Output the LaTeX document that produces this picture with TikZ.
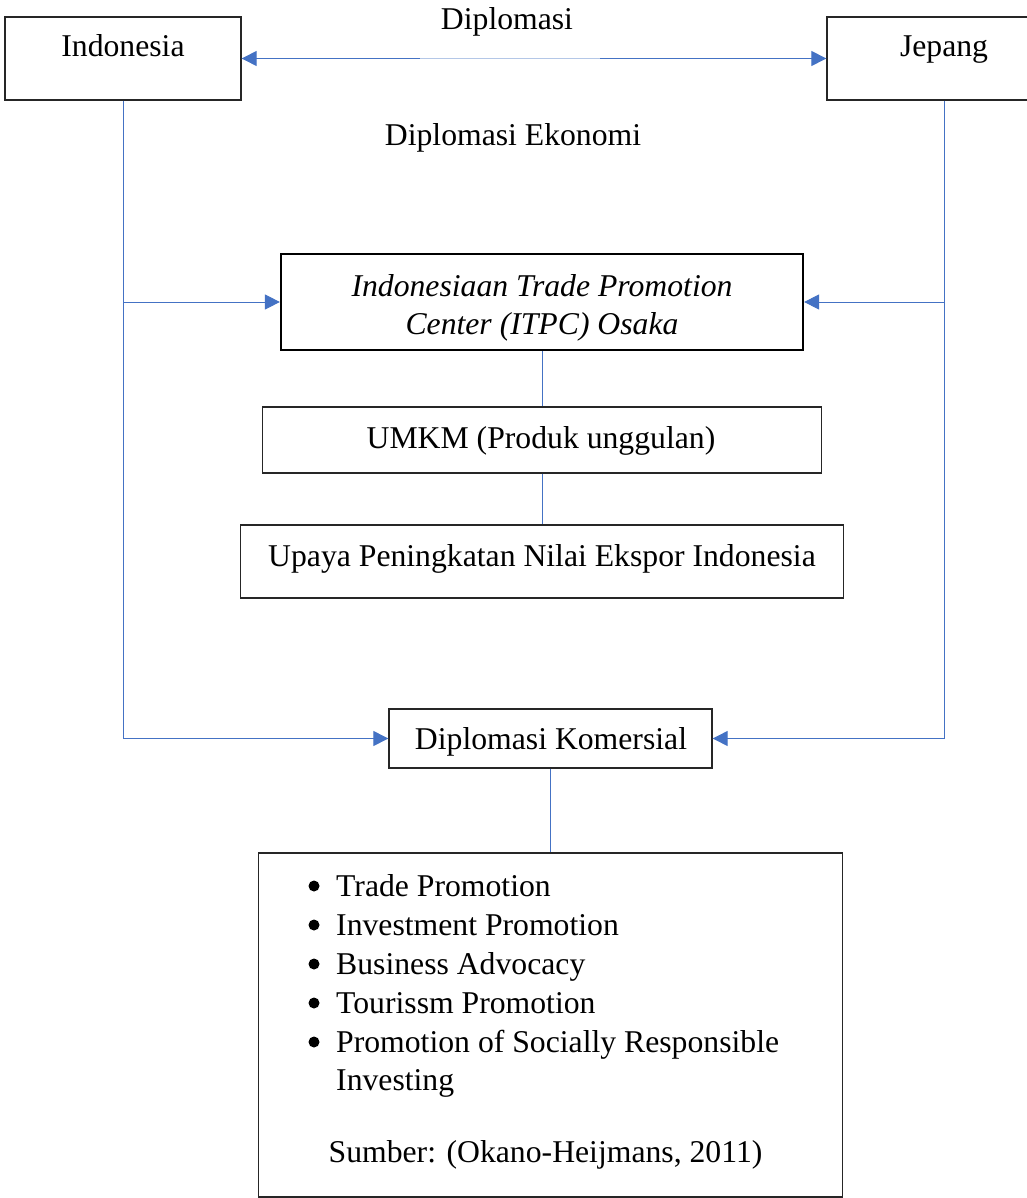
\documentclass[tikz,border=0pt]{standalone}
\usepackage{fontspec}
\setmainfont{Liberation Serif}
\usetikzlibrary{arrows.meta}
\definecolor{lnblue}{HTML}{4472C4}
\definecolor{lnlight}{HTML}{B4C7E7}
\definecolor{boxline}{HTML}{262626}
\begin{document}
\begin{tikzpicture}[x=1pt,y=-1pt,
  box/.style={draw=boxline, line width=1.3pt, rectangle, inner sep=0pt},
  txt/.style={inner sep=0pt, anchor=base, font=\fontsize{31.7}{38}\selectfont},
  txtw/.style={inner sep=0pt, anchor=base west, font=\fontsize{31.7}{38}\selectfont},
  bul/.style={circle, fill=black, inner sep=0pt, minimum size=11pt},
  conn/.style={draw=lnblue, line width=1pt},
  tip/.style={-{Triangle[length=15pt,width=15pt]}}]
\useasboundingbox (0,0) rectangle (1026,1198);
% boxes
\node[box, minimum width=236pt, minimum height=83pt] (ind) at (123,58.5) {};
\node[box, minimum width=234pt, minimum height=83pt] (jep) at (944,58.5) {};
\node[box, line width=2.2pt, draw=black, minimum width=522pt, minimum height=96pt] (itpc) at (542,302) {};
\node[box, minimum width=559pt, minimum height=66pt] (umkm) at (542,440) {};
\node[box, minimum width=603pt, minimum height=73pt] (upaya) at (542,561.5) {};
\node[box, minimum width=323pt, minimum height=59pt] (kom) at (550.5,738.5) {};
\node[box, minimum width=584pt, minimum height=344pt] (list) at (550.5,1025) {};
% texts
\node[txt] (tind) at (123,57) {Indonesia};
\node[txt] (tjep) at (944,57) {Jepang};
\node[txt] (tdip) at (507,30) {Diplomasi};
\node[txt] (tdek) at (513,146) {Diplomasi Ekonomi};
\node[txt] (titpc1) at (542,296) {\itshape Indonesiaan Trade Promotion};
\node[txt] (titpc2) at (542,334.5) {\itshape Center (ITPC) Osaka};
\node[txt] (tumkm) at (541,448) {UMKM (Produk unggulan)};
\node[txt] (tupaya) at (542,566) {Upaya Peningkatan Nilai Ekspor Indonesia};
\node[txt] (tkom) at (551,749) {Diplomasi Komersial};
\node[bul] (b1) at (314,886) {};
\node[txtw] (l1) at (336,896) {Trade Promotion};
\node[bul] (b2) at (314,925) {};
\node[txtw] (l2) at (336,935) {Investment Promotion};
\node[bul] (b3) at (314,964) {};
\node[txtw] (l3) at (336,974) {Business Advocacy};
\node[bul] (b4) at (314,1003) {};
\node[txtw] (l4) at (336,1013) {Tourissm Promotion};
\node[bul] (b5) at (314,1042) {};
\node[txtw] (l5) at (336,1052) {Promotion of Socially Responsible};
\node[txtw] (l6) at (336,1090) {Investing};
\node[txt] (tsum) at (545.5,1162) {Sumber: (Okano-Heijmans, 2011)};
% connectors
\draw[conn, {Triangle[length=15pt,width=15pt]}-{Triangle[length=15pt,width=15pt]}] (ind.east) -- (jep.west);
\coordinate (ga) at (420,58.5);
\coordinate (gb) at (600,58.5);
\draw[white, line width=1.6pt] (ga) -- (gb);
\draw[lnlight, line width=0.8pt] (ga) -- (gb);
\draw[conn, tip] (ind.south) |- (kom.west);
\draw[conn, tip] (ind.south |- itpc.west) -- (itpc.west);
\draw[conn, tip] (jep.south) |- (kom.east);
\draw[conn, tip] (jep.south |- itpc.east) -- (itpc.east);
\draw[conn] (itpc.south) -- (umkm.north);
\draw[conn] (umkm.south) -- (upaya.north);
\draw[conn] (kom.south) -- (list.north);
\end{tikzpicture}
\end{document}
